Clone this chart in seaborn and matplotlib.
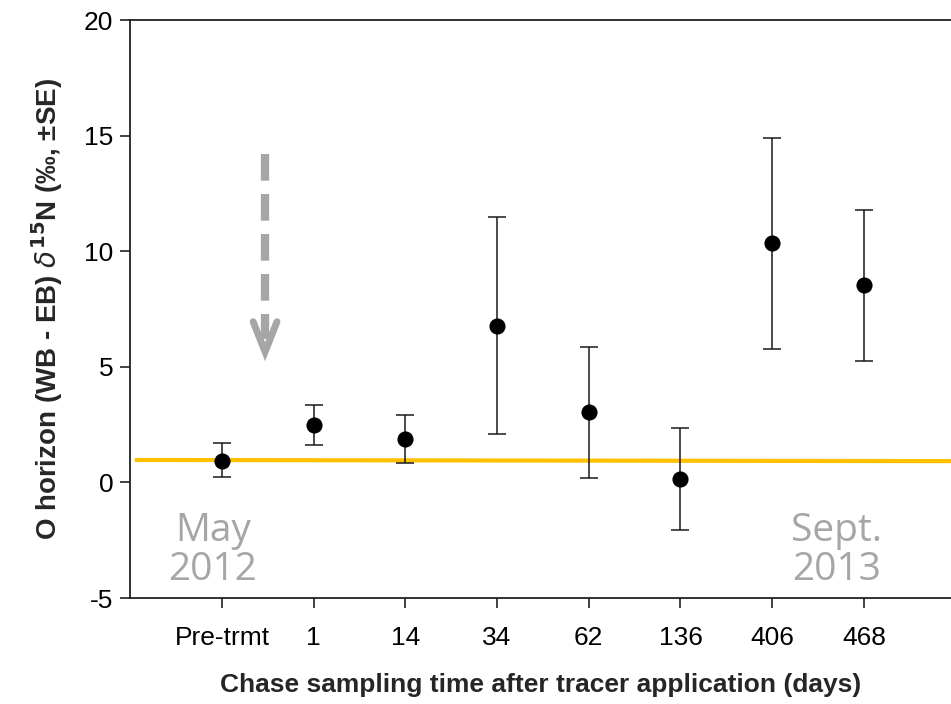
import matplotlib
matplotlib.use("Agg")
import matplotlib.pyplot as plt
import seaborn as sns
import numpy as np
import pandas as pd

categories = ["Pre-trmt", "1", "14", "34", "62", "136", "406", "468"]
means = [0.93, 2.48, 1.88, 6.77, 3.05, 0.15, 10.35, 8.54]
se_upper = [0.77, 0.87, 1.04, 4.71, 2.81, 2.22, 4.55, 3.23]
se_lower = [0.70, 0.86, 1.04, 4.68, 2.86, 2.21, 4.58, 3.29]
baseline = [0.97, 0.92]
yticks = [-5, 0, 5, 10, 15, 20]

sns.set_theme(style="white")
plt.rcParams['font.family'] = ['Liberation Sans', 'DejaVu Sans']

df = pd.DataFrame({"time": categories, "delta": means})

W, H = 951, 704
fig = plt.figure(figsize=(W / 100, H / 100), dpi=100)
ax = fig.add_axes([130 / W, (H - 598) / H, (951 - 130) / W, (598 - 20) / H])

x = np.arange(len(categories))
xmin, xmax = -1.003, 7.95

# baseline (orange)
ax.plot([-0.95, xmax], baseline, color="#FFC000", lw=3.0, zorder=1, solid_capstyle="butt")

ax.errorbar(x, means, yerr=[se_lower, se_upper], fmt="none", ecolor="#1a1a1a",
            elinewidth=1.1, capsize=6.5, capthick=1.1, zorder=2)
sns.scatterplot(data=df, x="time", y="delta", ax=ax, color="black", s=135,
                edgecolor="black", linewidth=0, zorder=3, legend=False)

# gray dashed arrow
ax.plot([0.47, 0.47], [14.2, 6.2], color="#A6A6A6", lw=6, linestyle=(0, (3.2, 1.6)),
        solid_capstyle="butt", zorder=2)
ax.plot([0.34, 0.47, 0.60], [6.95, 5.65, 6.95], color="#A6A6A6", lw=5,
        solid_joinstyle="miter", zorder=2)

ax.text(-0.1, -2.95, "May\n2012", color="#A6A6A6", fontsize=28, ha="center",
        va="center", linespacing=1.05, family=["Open Sans", "DejaVu Sans"])
ax.text(6.7, -2.95, "Sept.\n2013", color="#A6A6A6", fontsize=28, ha="center",
        va="center", linespacing=1.05, family=["Open Sans", "DejaVu Sans"])

ax.set_xlim(xmin, xmax)
ax.set_ylim(-5, 20)
ax.set_yticks(yticks)
ax.set_yticklabels([str(v) for v in yticks])
ax.set_xticks(x)
ax.set_xticklabels(categories)

for side in ["left", "bottom", "top"]:
    ax.spines[side].set_visible(True)
    ax.spines[side].set_color("#222222")
    ax.spines[side].set_linewidth(1.3)
ax.spines["right"].set_visible(False)

ax.tick_params(axis="both", which="both", direction="out", length=7, width=1.2,
               color="#222222", labelsize=19, labelcolor="black", pad=5)
ax.tick_params(axis="x", pad=13)
ax.tick_params(left=True, bottom=True, top=False, right=False)

ax.set_xlabel("Chase sampling time after tracer application (days)", fontsize=19,
              fontweight="bold", labelpad=17)
ax.set_ylabel(r"O horizon (WB - EB) $\delta^{\mathbf{15}}$N (‰, ±SE)", fontsize=20,
              fontweight="bold", labelpad=14)

fig.savefig("out.png", dpi=100)
